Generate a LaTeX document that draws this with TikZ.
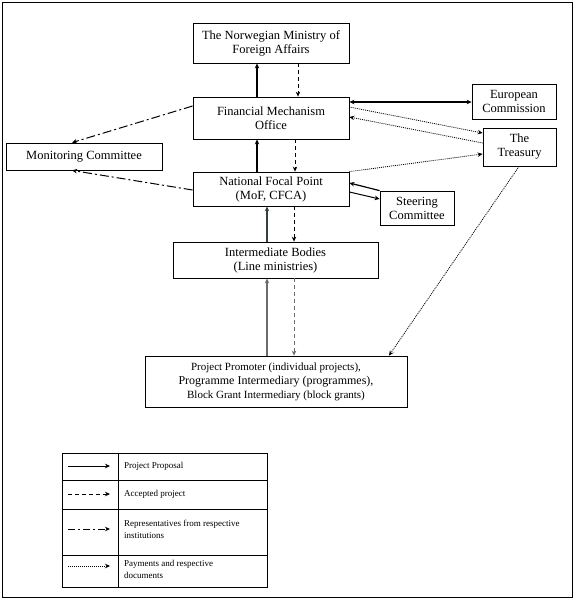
\documentclass[tikz,border=0pt]{standalone}
\usepackage{fontspec}
\setmainfont{Liberation Serif}
\usetikzlibrary{arrows.meta}
\definecolor{darkslate}{RGB}{52,66,60}
\begin{document}
\begin{tikzpicture}[x=1pt,y=-1pt,
  box/.style={draw,line width=0.8pt,inner sep=0pt,align=center,font=\fontsize{12.5}{14}\selectfont},
  arr/.style={line width=1.2pt,-{Stealth[length=5pt,width=4.5pt]}},
  dbl/.style={line width=1.2pt,{Stealth[length=5pt,width=4.5pt]}-{Stealth[length=5pt,width=4.5pt]}},
  dsh/.style={arr,line width=1pt,dash pattern=on 4pt off 3pt},
  dashdot/.style={arr,line width=1pt,dash pattern=on 9pt off 3pt on 2pt off 3pt},
  dots/.style={arr,line width=0.8pt,dash pattern=on 1pt off 1pt},
  legtext/.style={anchor=west,align=left,inner sep=0pt,font=\fontsize{9}{12}\selectfont}
]
\useasboundingbox (0,0) rectangle (579,603);
\draw[line width=1pt] (2,2) rectangle (572,597);

\node[box,minimum width=156pt,minimum height=40pt] (nor) at (271,43) {The Norwegian Ministry of\\Foreign Affairs};
\node[box,minimum width=156pt,minimum height=42pt] (fmo) at (271,118) {Financial Mechanism\\Office};
\node[box,minimum width=156pt,minimum height=34pt] (nfp) at (271,189) {National Focal Point\\(MoF, CFCA)};
\node[box,minimum width=156pt,minimum height=27pt] (mon) at (84,156.5) {Monitoring Committee};
\node[box,minimum width=84pt,minimum height=35pt] (ec) at (514,101.5) {European\\Commission};
\node[box,minimum width=73pt,minimum height=38pt] (tre) at (519.5,147) {The\\Treasury};
\node[box,minimum width=74pt,minimum height=34pt] (ste) at (417,208) {Steering\\Committee};
\node[box,minimum width=205pt,minimum height=36pt] (ib) at (275.5,260) {Intermediate Bodies\\(Line ministries)};
\node[box,minimum width=262pt,minimum height=51pt] (pp) at (276,381.5)
  {{\fontsize{11}{13}\selectfont Project Promoter (individual projects),}\\
   {\fontsize{12}{13}\selectfont Programme Intermediary (programmes),}\\
   {\fontsize{11}{13}\selectfont Block Grant Intermediary (block grants)}};

% vertical connectors
\draw[arr] (fmo.north -| 257,0) -- (nor.south -| 257,0);
\draw[dsh] (nor.south -| 298,0) -- (fmo.north -| 298,0);
\draw[arr] (nfp.north -| 257,0) -- (fmo.south -| 257,0);
\draw[dsh] (fmo.south -| 295,0) -- (nfp.north -| 295,0);
\draw[arr,draw=darkslate] (ib.north -| 267,0) -- (nfp.south -| 267,0);
\draw[dsh] (nfp.south -| 294,0) -- (ib.north -| 294,0);
\draw[arr,draw=black!58] (pp.north -| 267,0) -- (ib.south -| 267,0);
\draw[dsh,draw=black!58] (ib.south -| 294,0) -- (pp.north -| 294,0);

% right side
\draw[dbl] (fmo.east |- 0,102) -- (ec.west |- 0,102);
\draw[dots] (fmo.east |- 0,107) -- (tre.west |- 0,133);
\draw[dots] (tre.west |- 0,143) -- (fmo.east |- 0,117);
\draw[dots] (nfp.north east) -- (tre.west |- 0,154);
\draw[arr] (ste.north west) -- (nfp.east |- 0,183);
\draw[arr,line width=1pt] (nfp.east |- 0,192) -- (ste.west |- 0,199);
\draw[dots] (tre.south -| 519,0) -- (pp.north -| 389,0);

% left side
\draw[dashdot] (fmo.west |- 0,106) -- (mon.north -| 72,0);
\draw[dashdot] (nfp.west |- 0,190) -- (mon.south -| 72,0);

% legend
\draw[line width=0.8pt] (62,453) rectangle (267,587);
\draw[line width=0.8pt] (118,453) -- (118,587);
\draw[line width=0.8pt] (62,480) -- (267,480);
\draw[line width=0.8pt] (62,509) -- (267,509);
\draw[line width=0.8pt] (62,555) -- (267,555);

\coordinate (l1a) at (68,466); \coordinate (l1b) at (110,466);
\coordinate (l2a) at (68,494); \coordinate (l2b) at (110,494);
\coordinate (l3a) at (68,529); \coordinate (l3b) at (110,529);
\coordinate (l4a) at (68,566); \coordinate (l4b) at (110,566);
\draw[arr,line width=0.7pt] (l1a) -- (l1b);
\draw[dsh] (l2a) -- (l2b);
\draw[dashdot,dash pattern=on 7pt off 3pt on 2pt off 3pt] (l3a) -- (l3b);
\draw[dots,line width=0.7pt] (l4a) -- (l4b);

\node[legtext] (t1) at (124,466) {Project Proposal};
\node[legtext] (t2) at (124,494) {Accepted project};
\node[legtext] (t3) at (124,529) {Representatives from respective\\institutions};
\node[legtext] (t4) at (124,569) {Payments and respective\\documents};
\end{tikzpicture}
\end{document}
